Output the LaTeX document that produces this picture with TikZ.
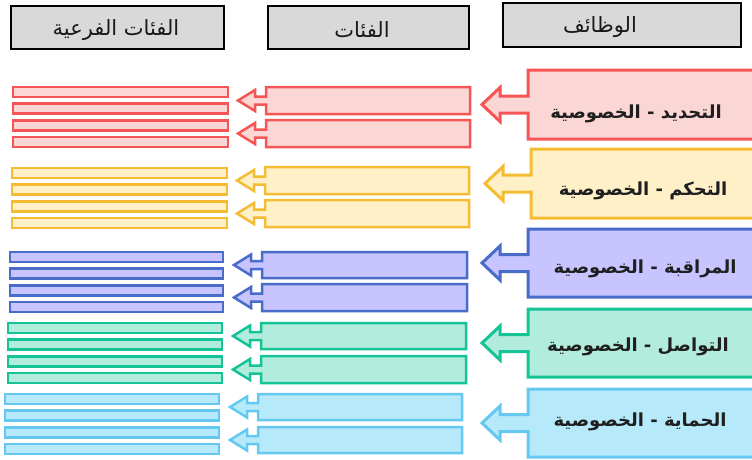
\documentclass[tikz,border=0pt]{standalone}
\usepackage{fontspec}
\TeXXeTstate=1
\newfontfamily\arabicfont[Script=Arabic]{DejaVu Sans}
\definecolor{redS}{RGB}{245,85,85}
\definecolor{redF}{RGB}{250,215,212}
\definecolor{yelS}{RGB}{245,188,50}
\definecolor{yelF}{RGB}{255,240,200}
\definecolor{bluS}{RGB}{72,108,200}
\definecolor{bluF}{RGB}{200,196,255}
\definecolor{grnS}{RGB}{20,195,150}
\definecolor{grnF}{RGB}{178,236,220}
\definecolor{lbS}{RGB}{100,200,240}
\definecolor{lbF}{RGB}{182,234,250}
\definecolor{hdrF}{RGB}{217,217,217}
\tikzset{
  hdr/.style={draw=black, line width=2pt, fill=hdrF},
  hdrtext/.style={font=\arabicfont\fontsize{21}{24}\selectfont, text=black!90, inner sep=0pt},
  lbl/.style={font=\arabicfont\bfseries\fontsize{18}{21}\selectfont, text=black!88, inner sep=0pt},
  redst/.style={draw=redS, fill=redF, line width=2.5pt, line join=miter},
  yelst/.style={draw=yelS, fill=yelF, line width=2.5pt, line join=miter},
  blust/.style={draw=bluS, fill=bluF, line width=2.5pt, line join=miter},
  grnst/.style={draw=grnS, fill=grnF, line width=2.5pt, line join=miter},
  lbst/.style={draw=lbS, fill=lbF, line width=2.5pt, line join=miter},
}
% big arrow box: style, L, T, B
\newcommand\bigarr[4]{%
  \draw[#1, line width=3pt] (760,#3) -- (#2,#3) -- (#2,{(#3+#4)/2-8.5}) -- ({#2-28},{(#3+#4)/2-8.5})
   -- ({#2-28},{(#3+#4)/2-17}) -- ({#2-46},{(#3+#4)/2}) -- ({#2-28},{(#3+#4)/2+17})
   -- ({#2-28},{(#3+#4)/2+8.5}) -- (#2,{(#3+#4)/2+8.5}) -- (#2,#4) -- (760,#4) -- cycle;}
% small arrow box: style, L, R, T, B
\newcommand\smallarr[5]{%
  \draw[#1] (#3,#4) -- (#2,#4) -- (#2,{(#4+#5)/2-4}) -- ({#2-11},{(#4+#5)/2-4})
   -- ({#2-11},{(#4+#5)/2-10.5}) -- ({#2-28},{(#4+#5)/2}) -- ({#2-11},{(#4+#5)/2+10.5})
   -- ({#2-11},{(#4+#5)/2+4}) -- (#2,{(#4+#5)/2+4}) -- (#2,#5) -- (#3,#5) -- cycle;}
% four bars: style, L, R, T0
\newcommand\fourbars[4]{%
  \foreach \k in {0,1,2,3}{\draw[#1] (#2,{#4+\k*16.67}) rectangle (#3,{#4+\k*16.67+10});}}
\begin{document}
\begin{tikzpicture}[x=1pt,y=-1pt]
\useasboundingbox (0,0) rectangle (752,459);
\clip (0,0) rectangle (752,459);
% headers
\draw[hdr] (11,6) rectangle (224,49);
\draw[hdr] (268,6) rectangle (469,49);
\draw[hdr] (503,3) rectangle (741,47);
\node[hdrtext] (h1) at (116,30) {\beginR الفئات الفرعية\endR};
\node[hdrtext] (h2) at (362,30) {\beginR الفئات\endR};
\node[hdrtext] (h3) at (600,27) {\beginR الوظائف\endR};
% red
\bigarr{redst}{528}{70}{139}
\smallarr{redst}{266}{470}{87}{114}
\smallarr{redst}{266}{470}{120}{147}
\fourbars{redst}{13}{228}{87}
\node[lbl] (l1) at (636,114) {\beginR التحديد - الخصوصية\endR};
% yellow
\bigarr{yelst}{531}{149}{218}
\smallarr{yelst}{265}{469}{167}{194}
\smallarr{yelst}{265}{469}{200}{227}
\fourbars{yelst}{12}{227}{168}
\node[lbl] (l2) at (643,191) {\beginR التحكم - الخصوصية\endR};
% blue
\bigarr{blust}{528}{229}{297}
\smallarr{blust}{262}{467}{252}{278}
\smallarr{blust}{262}{467}{284}{311}
\fourbars{blust}{10}{223}{252}
\node[lbl] (l3) at (645,269) {\beginR المراقبة - الخصوصية\endR};
% green
\bigarr{grnst}{528}{309}{377}
\smallarr{grnst}{261}{466}{323}{349}
\smallarr{grnst}{261}{466}{356}{383}
\fourbars{grnst}{8}{222}{323}
\node[lbl] (l4) at (638,347) {\beginR التواصل - الخصوصية\endR};
% light blue
\bigarr{lbst}{528}{389}{457}
\smallarr{lbst}{258}{462}{394}{420}
\smallarr{lbst}{258}{462}{427}{453}
\fourbars{lbst}{5}{219}{394}
\node[lbl] (l5) at (640,422) {\beginR الحماية - الخصوصية\endR};
\end{tikzpicture}
\end{document}
